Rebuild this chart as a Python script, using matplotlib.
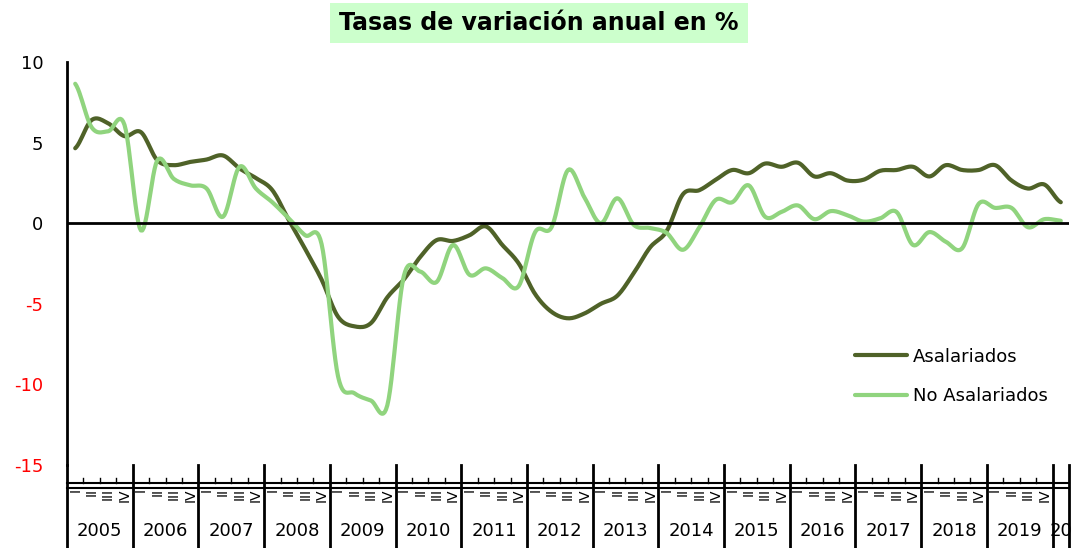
import matplotlib
matplotlib.use("Agg")
import matplotlib.pyplot as plt
from matplotlib.patches import Rectangle
import numpy as np

plt.rcParams['font.family'] = ['DejaVu Sans']
plt.rcParams['axes.unicode_minus'] = False

years = [str(y) for y in range(2005, 2020)] + ['20']
quarters = ['I', 'II', 'III', 'IV']

asalariados = [4.65, 6.4, 6.2, 5.4, 5.65, 3.9, 3.6, 3.8, 3.95, 4.2,
               3.4, 2.8, 2.05, 0.2, -1.6, -3.5, -5.8, -6.4, -6.2, -4.6,
               -3.5, -2.1, -1.05, -1.1, -0.75, -0.2, -1.35, -2.5, -4.4, -5.5,
               -5.9, -5.6, -5.0, -4.5, -3.1, -1.5, -0.5, 1.8, 2.05, 2.7,
               3.3, 3.1, 3.7, 3.5, 3.75, 2.9, 3.1, 2.65, 2.7, 3.25,
               3.3, 3.5, 2.9, 3.6, 3.3, 3.3, 3.6, 2.65, 2.15, 2.4,
               1.3]
no_asalariados = [8.65, 5.95, 5.7, 6.1, -0.45, 3.9, 2.75, 2.35, 2.15, 0.4,
                  3.5, 2.15, 1.3, 0.3, -0.75, -1.3, -9.5, -10.55, -11.0, -11.3,
                  -3.3, -3.0, -3.65, -1.35, -3.2, -2.8, -3.4, -3.9, -0.55, -0.25,
                  3.3, 1.6, 0.0, 1.55, -0.1, -0.3, -0.6, -1.65, -0.25, 1.45,
                  1.3, 2.35, 0.4, 0.7, 1.1, 0.25, 0.75, 0.5, 0.1, 0.3,
                  0.7, -1.35, -0.55, -1.15, -1.55, 1.2, 0.95, 0.95, -0.25, 0.25,
                  0.15]


def smooth(y, n=12):
    # catmull-rom, like excel's smoothed lines
    y = np.asarray(y, float)
    p = np.concatenate([[y[0]], y, [y[-1]]])
    xs, ys = [], []
    t = np.linspace(0, 1, n, endpoint=False)
    for i in range(len(y) - 1):
        p0, p1, p2, p3 = p[i], p[i + 1], p[i + 2], p[i + 3]
        v = 0.5 * ((2 * p1) + (-p0 + p2) * t + (2 * p0 - 5 * p1 + 4 * p2 - p3) * t ** 2
                   + (-p0 + 3 * p1 - 3 * p2 + p3) * t ** 3)
        xs.extend(i + t)
        ys.extend(v)
    xs.append(len(y) - 1)
    ys.append(y[-1])
    return np.array(xs), np.array(ys)


fig = plt.figure(figsize=(10.75, 5.48), dpi=100)
ax = fig.add_axes([67 / 1075, 83 / 548, 1002 / 1075, 403 / 548])

x1, y1 = smooth(asalariados)
x2, y2 = smooth(no_asalariados)
ax.plot(x1, y1, color='#4F6228', lw=3, label='Asalariados', solid_capstyle='round')
ax.plot(x2, y2, color='#90D47E', lw=3, label='No Asalariados', solid_capstyle='round')
ax.axhline(0, color='black', lw=2)

ax.set_xlim(-0.5, len(asalariados) - 0.5)
ax.set_ylim(-15, 10)
ax.set_yticks([10, 5, 0, -5, -10, -15])
ax.tick_params(axis='y', length=0, labelsize=13, pad=17)
for lab, v in zip(ax.get_yticklabels(), [10, 5, 0, -5, -10, -15]):
    lab.set_color('red' if v < 0 else 'black')
ax.set_xticks([])
for s in ['top', 'right', 'bottom']:
    ax.spines[s].set_visible(False)
ax.spines['left'].set_linewidth(2)

# category band under the plot
tr = ax.get_xaxis_transform()
n = len(asalariados)
ax.plot([-0.5, n - 0.5], [-0.045, -0.045], transform=tr, color='black', lw=1.5, clip_on=False)
ax.plot([-0.5, n - 0.5], [-0.057, -0.057], transform=tr, color='black', lw=1.5, clip_on=False)
for i in range(n):
    xb = i - 0.5
    if i % 4 == 0:
        ax.plot([xb, xb], [0, -0.21], transform=tr, color='black', lw=2, clip_on=False)
    else:
        ax.plot([xb, xb], [-0.032, -0.045], transform=tr, color='black', lw=1, clip_on=False)
    if i < 60:
        ax.text(i, -0.058, quarters[i % 4], transform=tr, rotation=90, ha='center',
                va='top', fontsize=10, clip_on=False)
ax.plot([n - 0.5, n - 0.5], [0, -0.21], transform=tr, color='black', lw=2, clip_on=False)
for k, yr in enumerate(years):
    xc = 4 * k + 1.5 if k < 15 else 60
    ax.text(xc, -0.165, yr, transform=tr, ha='center', va='center', fontsize=13)

ax.legend(loc='center left', bbox_to_anchor=(0.786, 0.22), frameon=False, fontsize=13,
          handlelength=2.9, labelspacing=1.2, handletextpad=0.35, borderpad=0,
          borderaxespad=0)

fig.patches.append(Rectangle((330 / 1075, 1 - 43 / 548), 418 / 1075, 40 / 548,
                             transform=fig.transFigure, facecolor='#CCFFCC',
                             edgecolor='none', zorder=0))
fig.text(539 / 1075, 1 - 23 / 548, 'Tasas de variación anual en %', ha='center', va='center',
         fontsize=17, fontweight='bold')

fig.savefig('out.png', dpi=100)
